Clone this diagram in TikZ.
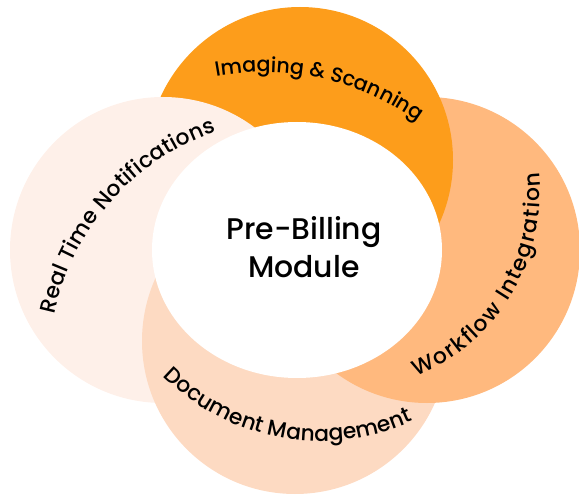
\documentclass[tikz,border=0pt]{standalone}
\usepackage{fontspec}
\setmainfont{Poppins}[UprightFont={* Medium}]
\usetikzlibrary{decorations.text,calc}
\definecolor{imgorange}{HTML}{FD9D1B}
\definecolor{wfpeach}{HTML}{FFB97E}
\definecolor{docpeach}{HTML}{FDDAC2}
\definecolor{rtblush}{HTML}{FEF0E9}
\newcommand\lblfont{\fontsize{18.6}{18.6}\selectfont}
\newcommand\toplblfont{\fontsize{17.6}{17.6}\selectfont}
\begin{document}
\begin{tikzpicture}[x=0.03cm,y=0.03cm,
  petal/.style={fill=#1},
  arclabel/.style={decorate, decoration={text along path, text align={fit to path}, text={#1}}},
  midlabel/.style={decorate, decoration={text along path, text align=center, text={#1}}}]
\useasboundingbox (0,0) rectangle (579,494);
% petal centres
\coordinate (ctop) at (300,334);
\coordinate (cright) at (427,244);
\coordinate (cbottom) at (295,153);
\coordinate (cleft) at (163,244);
\def\R{153}
% petals, each overlapping the next one round the ring
\fill[petal=rtblush] (cleft) circle[radius=\R];
\fill[petal=docpeach] (cbottom) circle[radius=\R];
\fill[petal=wfpeach] (cright) circle[radius=\R];
\fill[petal=imgorange] (ctop) circle[radius=\R];
\begin{scope}
  \clip (ctop) circle[radius=\R+4];
  \fill[petal=rtblush] (cleft) circle[radius=\R];
\end{scope}
% hub
\fill[white] (297,244) ellipse[x radius=145, y radius=128];
\node[align=center, font=\fontsize{25.5}{32}\selectfont] (hub) at (304,247) {Pre-Billing\\Module};
% centres of the label arcs
\coordinate (ltop) at (263,157);
\coordinate (lleft) at (297,128);
\coordinate (lright) at (342,301);
\coordinate (lbottom) at (320,275);
\path[midlabel={|\toplblfont|Imaging {\&} Scanning}]
  ($(ltop)+(120:265)$) arc[start angle=120, end angle=34.5, radius=265];
\path[arclabel={|\lblfont|Real Time Notifications}]
  ($(lleft)+(168:248)$) arc[start angle=168, end angle=109, radius=248];
\path[arclabel={|\lblfont|Workflow Integration}]
  ($(lright)+(-68:198)$) arc[start angle=-68, end angle=6, radius=198];
\path[arclabel={|\lblfont|Document Management}]
  ($(lbottom)+(-135:222)$) arc[start angle=-135, end angle=-65.5, radius=222];
\end{tikzpicture}
\end{document}
